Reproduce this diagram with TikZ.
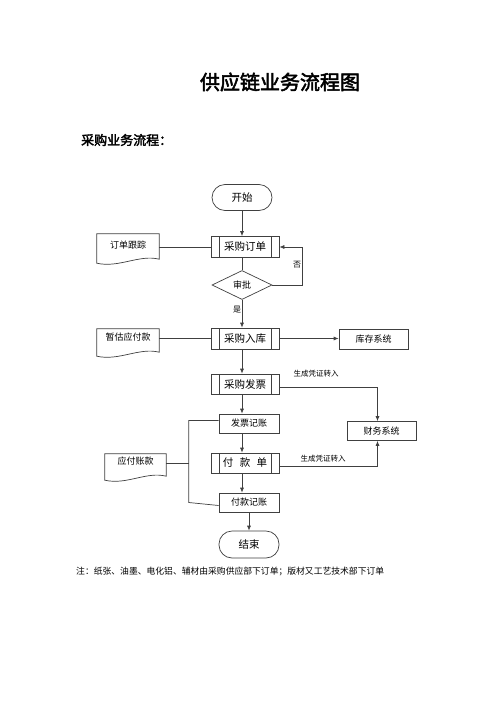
\documentclass[tikz,border=0pt]{standalone}
\usepackage{fontspec}
\setmainfont{Noto Sans CJK SC}[AutoFakeBold=2.5]
\usetikzlibrary{shapes.geometric,arrows.meta,calc}
\tikzset{
  ln/.style={draw=black!75, line width=0.7pt},
  arr/.style={ln, -{Latex[length=5pt,width=4pt]}},
  fs/.style={font=\fontsize{#1}{#1}\selectfont},
  boxx/.style={ln, rectangle, inner sep=0pt, fs=9},
  term/.style={ln, rectangle, rounded corners=13pt, inner sep=0pt, fs=10.5},
  predef/.style={ln, rectangle, inner sep=0pt, fs=10.5,
    path picture={\draw[black!75, line width=0.7pt]
      ([xshift=8pt]path picture bounding box.north west) -- ([xshift=8pt]path picture bounding box.south west)
      ([xshift=-8pt]path picture bounding box.north east) -- ([xshift=-8pt]path picture bounding box.south east);}},
  docbox/.style={rectangle, inner sep=0pt},
  lbl/.style={inner sep=0pt, fs=#1},
}
\newcommand\docwave[1]{\draw[ln] (#1.north west) -- (#1.north east) -- ([yshift=4pt]#1.south east)
  .. controls ([xshift=-20pt,yshift=9pt]#1.south east) and ([xshift=22pt,yshift=-5pt]#1.south west) .. (#1.south west) -- cycle;}
\begin{document}
\begin{tikzpicture}[x=1pt,y=-1pt]
\useasboundingbox[fill=white] (0,0) rectangle (500,707);
% titles
\node[lbl=20, font=\fontsize{20}{20}\selectfont\bfseries] (title) at (280,82) {供应链业务流程图};
\node[lbl=13, font=\fontsize{13}{13}\selectfont\bfseries, anchor=west] (sub) at (81,140) {采购业务流程：};
% main nodes
\node[term, minimum width=60pt, minimum height=26pt] (start) at (242,197.5) {开始};
\node[predef, minimum width=68pt, minimum height=21pt] (order) at (245,247) {采购订单};
\node[ln, diamond, minimum width=60pt, minimum height=29pt, inner sep=0pt, fs=9] (approve) at (242,285) {审批};
\node[predef, minimum width=68pt, minimum height=21pt] (inbound) at (245,338.5) {采购入库};
\node[predef, minimum width=68pt, minimum height=20pt] (invoice) at (245,384) {采购发票};
\node[boxx, minimum width=60pt, minimum height=19pt] (post1) at (249,423.5) {发票记账};
\node[predef, minimum width=68pt, minimum height=20pt] (pay) at (245,463) {付\hspace{0.6em}款\hspace{0.6em}单};
\node[boxx, minimum width=60pt, minimum height=19pt] (post2) at (249,502.5) {付款记账};
\node[term, minimum width=60pt, minimum height=27pt] (end) at (249,544.5) {结束};
\node[boxx, minimum width=69pt, minimum height=20pt] (stock) at (373.5,339) {库存系统};
\node[boxx, minimum width=69pt, minimum height=19pt] (fin) at (381.5,431) {财务系统};
% documents
\node[docbox, minimum width=62pt, minimum height=29pt] (track) at (128,248.5) {};
\docwave{track}
\node[lbl=9] (trackt) at (128,245) {订单跟踪};
\node[docbox, minimum width=62pt, minimum height=27pt] (est) at (128,342.5) {};
\docwave{est}
\node[lbl=9] (estt) at (128,337.5) {暂估应付款};
\node[docbox, minimum width=61pt, minimum height=26pt] (ap) at (135.5,467) {};
\docwave{ap}
\node[lbl=9] (apt) at (135.5,461) {应付账款};
% labels
\node[lbl=8] (no) at (297,265) {否};
\node[lbl=8] (yes) at (237,310) {是};
\node[lbl=7.5] (gen1) at (316,374) {生成凭证转入};
\node[lbl=7.5] (gen2) at (323,459) {生成凭证转入};
\node[lbl=8.8, anchor=west] (note) at (76,571) {注：纸张、油墨、电化铝、辅材由采购供应部下订单；版材又工艺技术部下订单};
% connectors
\draw[arr] (start.south) -- (start.south |- order.north);
\draw[ln] (approve.north |- order.south) -- (approve.north);
\draw[arr] (approve.east) -- ++(30,0) coordinate (nocorner) |- (order.east);
\draw[ln] (order.west) -- (order.west -| track.east);
\draw[arr] (approve.south) -- (approve.south |- inbound.north);
\draw[ln] (inbound.west) -- (inbound.west -| est.east);
\draw[arr] (inbound.east) -- (inbound.east -| stock.west);
\draw[arr] (approve.south |- inbound.south) -- (approve.south |- invoice.north);
\draw[arr] ([yshift=-3pt]invoice.east) -| ([xshift=-4pt]fin.north);
\draw[arr] (approve.south |- invoice.south) -- (approve.south |- post1.north);
\draw[arr] (approve.south |- post1.south) -- (approve.south |- pay.north);
\draw[arr] ([yshift=-3pt]pay.east) -| ([xshift=-4pt]fin.south);
\draw[arr] (approve.south |- pay.south) -- (approve.south |- post2.north);
\draw[arr] (post2.south) -- (end.north);
\draw[ln] ([yshift=3pt]post1.west) -- ++(-30,0) coordinate (bt) -- (bt |- post2.west) coordinate (bb) -- ([yshift=-3pt]post2.west);
\draw[ln] ([yshift=4pt]ap.east) -- ([yshift=4pt]ap.east -| bt);
\end{tikzpicture}
\end{document}
